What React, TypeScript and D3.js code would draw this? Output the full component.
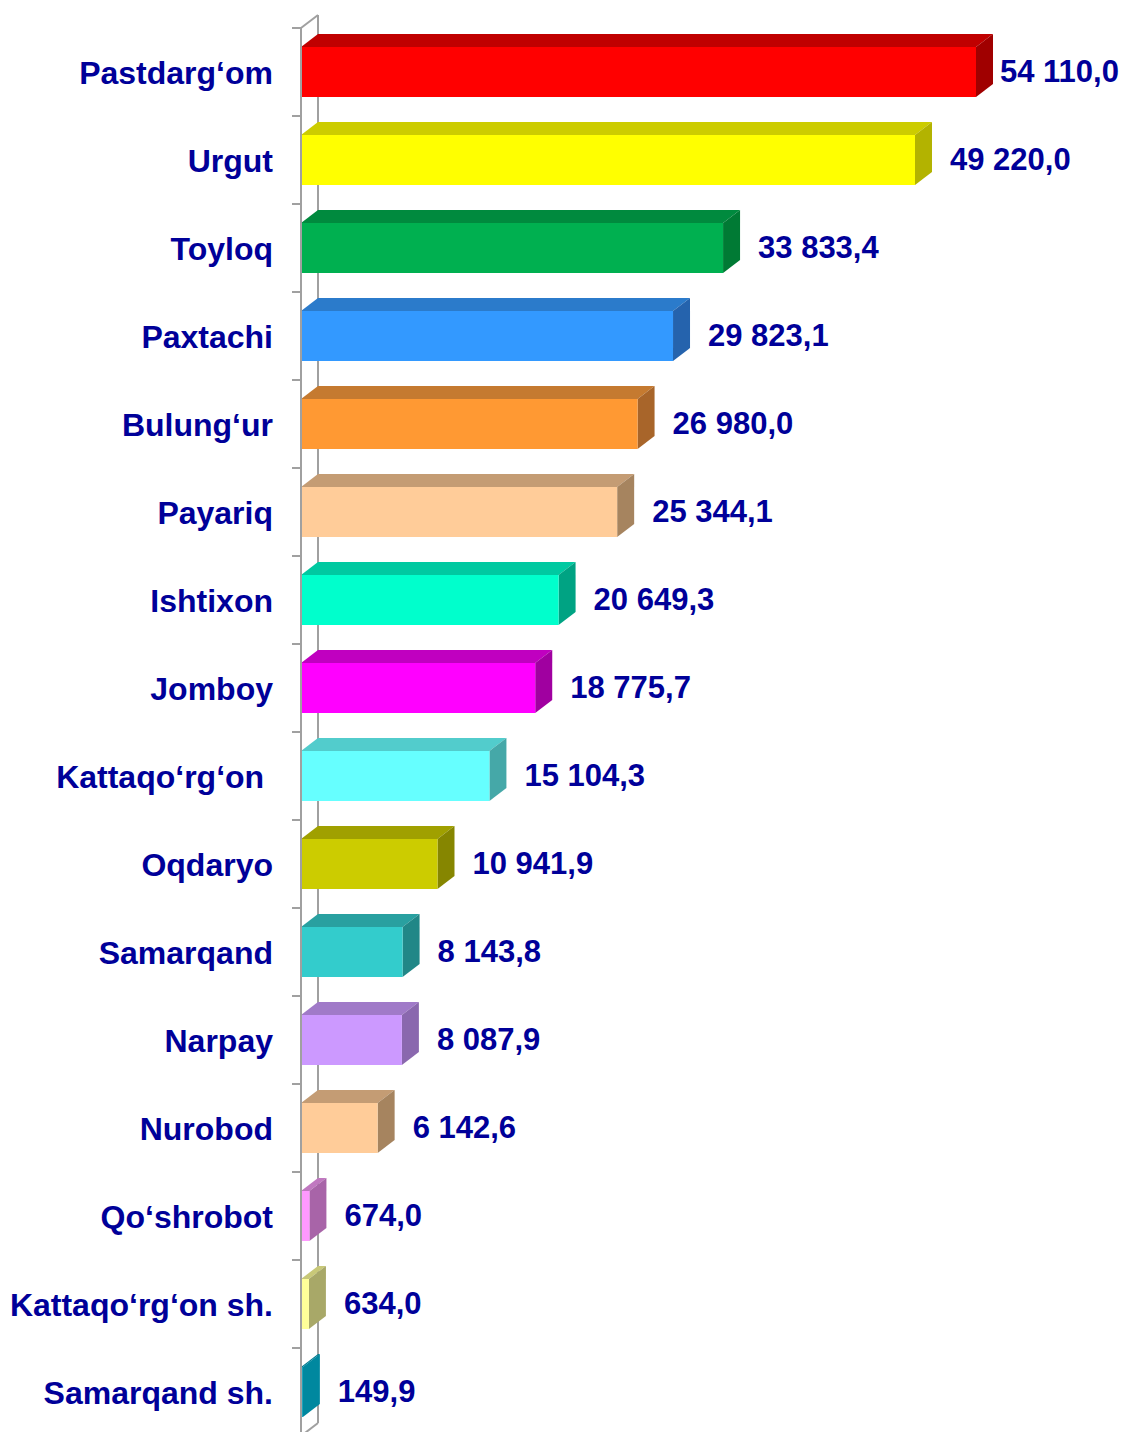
import React from "react";
import * as d3 from "d3";

const categories = [
  "Pastdarg‘om", "Urgut", "Toyloq", "Paxtachi", "Bulung‘ur", "Payariq", "Ishtixon", "Jomboy",
  "Kattaqo‘rg‘on ", "Oqdaryo", "Samarqand", "Narpay", "Nurobod", "Qo‘shrobot", "Kattaqo‘rg‘on sh.", "Samarqand sh.",
];
const values = [54110.0, 49220.0, 33833.4, 29823.1, 26980.0, 25344.1, 20649.3, 18775.7, 15104.3, 10941.9, 8143.8, 8087.9, 6142.6, 674.0, 634.0, 149.9];
const valueLabels = ["54 110,0", "49 220,0", "33 833,4", "29 823,1", "26 980,0", "25 344,1", "20 649,3", "18 775,7", "15 104,3", "10 941,9", "8 143,8", "8 087,9", "6 142,6", "674,0", "634,0", "149,9"];
const frontColors = ["#FF0000", "#FFFF00", "#00B050", "#3399FF", "#FF9933", "#FFCC99", "#00FFCC", "#FF00FF", "#66FFFF", "#CCCC00", "#33CCCC", "#CC99FF", "#FFCC99", "#FF99FF", "#FFFF99", "#0099B3"];
const topColors = ["#C00000", "#CCCC00", "#008A3E", "#2B7BCB", "#C57A30", "#C49C74", "#00C9A1", "#C000C0", "#52CCCC", "#A0A000", "#29A0A0", "#A07AC8", "#C49C74", "#C078C0", "#C8C878", "#007A8F"];
const sideColors = ["#A00000", "#B3B300", "#007A34", "#2563AD", "#A8652A", "#A6845F", "#00A383", "#A000A0", "#45A8A8", "#868600", "#218787", "#8A68AE", "#A6845F", "#A864A8", "#A8A868", "#00889F"];

const W = 1127;
const H = 1432;
const x0 = 301;
const top = 28;
const step = 88;
const dx = 17;
const dy = 13;
const textColor = "#000099";
const axisColor = "#A0A0A0";

export default function App() {
  const x = d3.scaleLinear().domain([0, 60000]).range([x0, x0 + 60000 * (675 / 54110)]);
  const y = d3.scaleBand<string>().domain(categories).range([top, top + step * categories.length]).padding(0);
  const barH = 50;
  const bottom = top + step * categories.length;

  return (
    <svg width={W} height={H} style={{ position: "absolute", left: 0, top: 0, background: "#fff" }}
      fontFamily="'Liberation Sans', Arial, sans-serif" fontWeight="bold">
      <line x1={x0 + dx} y1={top - dy} x2={x0 + dx} y2={bottom - dy} stroke={axisColor} strokeWidth={2} />
      <line x1={x0} y1={top} x2={x0 + dx} y2={top - dy} stroke={axisColor} strokeWidth={2} />
      <line x1={x0} y1={bottom} x2={x0 + dx} y2={bottom - dy} stroke={axisColor} strokeWidth={2} />
      {categories.map((c, i) => {
        const yc = (y(c) as number) + y.bandwidth() / 2;
        const yt = yc - barH / 2;
        const yb = yc + barH / 2;
        const x1 = x(values[i]);
        const topPts = [[x0, yt], [x0 + dx, yt - dy], [x1 + dx, yt - dy], [x1, yt]].map(p => p.join(",")).join(" ");
        const sidePts = [[x1, yt], [x1 + dx, yt - dy], [x1 + dx, yb - dy], [x1, yb]].map(p => p.join(",")).join(" ");
        const lx = Math.min(x1 + dx + 18, W - 127);
        return (
          <g key={c}>
            <polygon points={topPts} fill={topColors[i]} />
            <polygon points={sidePts} fill={sideColors[i]} />
            <rect x={x0} y={yt} width={x1 - x0} height={barH} fill={frontColors[i]} />
            <text x={lx} y={yc - 1} dy="0.36em" fontSize={31} fill={textColor}>{valueLabels[i]}</text>
            <text x={273} y={yc} dy="0.36em" fontSize={32} fill={textColor} textAnchor="end" style={{ whiteSpace: "pre" }}>{c}</text>
          </g>
        );
      })}
      <line x1={x0} y1={top} x2={x0} y2={H + 5} stroke={axisColor} strokeWidth={2} />
      {d3.range(categories.length + 1).map(i => (
        <line key={i} x1={x0 - 9} x2={x0} y1={top + i * step} y2={top + i * step} stroke={axisColor} strokeWidth={2} />
      ))}
    </svg>
  );
}
